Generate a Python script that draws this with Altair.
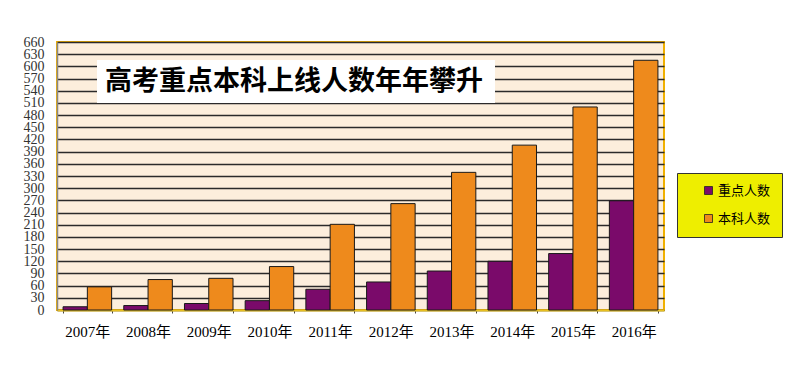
import altair as alt
import pandas as pd

years = ["2007年", "2008年", "2009年", "2010年", "2011年",
         "2012年", "2013年", "2014年", "2015年", "2016年"]
key_counts = [8, 11, 16, 23, 51, 69, 96, 120, 139, 269]
ben_counts = [57, 75, 78, 107, 211, 262, 339, 406, 500, 615]
series = ["重点人数", "本科人数"]
series_colors = ["#7A0A6A", "#EE8A1C"]
y_ticks = list(range(0, 661, 30))
title_text = "高考重点本科上线人数年年攀升"

rows = []
for i, y in enumerate(years):
    rows.append({"year": y, "series": series[0], "value": key_counts[i]})
    rows.append({"year": y, "series": series[1], "value": ben_counts[i]})
df = pd.DataFrame(rows)

W, H = 607, 268

bars = alt.Chart(df).mark_bar(stroke="#1a1a1a", strokeWidth=1).encode(
    x=alt.X("year:N", sort=years,
            scale=alt.Scale(paddingInner=0.2, paddingOuter=0.1),
            axis=alt.Axis(title=None, labelAngle=0, labelFont="Liberation Serif, Noto Sans CJK SC",
                          labelFontSize=15, labelColor="#000", labelPadding=11,
                          ticks=True, tickBand="extent", tickSize=3, tickColor="#444",
                          domainColor="#E8C020", domainWidth=2)),
    xOffset=alt.XOffset("series:N", sort=series),
    y=alt.Y("value:Q",
            scale=alt.Scale(domain=[0, 660], nice=False),
            axis=alt.Axis(title=None, values=y_ticks, labelOverlap=False,
                          labelFont="Liberation Serif", labelFontSize=14,
                          labelColor="#333", labelPadding=13, ticks=False,
                          domainColor="#888", domainWidth=1.5,
                          grid=True, gridColor="#2a2a2a", gridWidth=1.3)),
    color=alt.Color("series:N", sort=series,
                    scale=alt.Scale(domain=series, range=series_colors),
                    legend=alt.Legend(title=None, orient="none", legendX=620, legendY=131,
                                      fillColor="#EEEE00", strokeColor="#333",
                                      padding=11, rowPadding=14, symbolType="square",
                                      symbolSize=64, symbolStrokeColor="#222",
                                      symbolStrokeWidth=0.8, symbolOffset=14,
                                      labelOffset=3,
                                      labelExpr="datum.label + '     '",
                                      labelFont="Liberation Serif, Noto Sans CJK SC",
                                      labelFontSize=13, labelColor="#000",
                                      labelLimit=200)),
)

title_df = pd.DataFrame({"t": [title_text]})
title_box = alt.Chart(title_df).mark_rect(color="white").encode(
    x=alt.value(40), x2=alt.value(438), y=alt.value(18), y2=alt.value(61)
)
title_label = alt.Chart(title_df).mark_text(
    font="Noto Sans CJK SC", fontSize=27, fontWeight="bold", color="#000",
    align="left", baseline="middle"
).encode(x=alt.value(48), y=alt.value(40), text="t:N")

chart = alt.layer(title_box, title_label, bars).properties(
    width=W, height=H,
    background="white",
    padding={"left": 49, "top": 34, "right": 128, "bottom": 63},
    autosize=alt.AutoSizeParams(type="none"),
).configure_view(
    fill="#FCEEDC", stroke="#F0B000", strokeWidth=2
)

chart.save("out.html", embed_options={"renderer": "svg", "actions": False})
